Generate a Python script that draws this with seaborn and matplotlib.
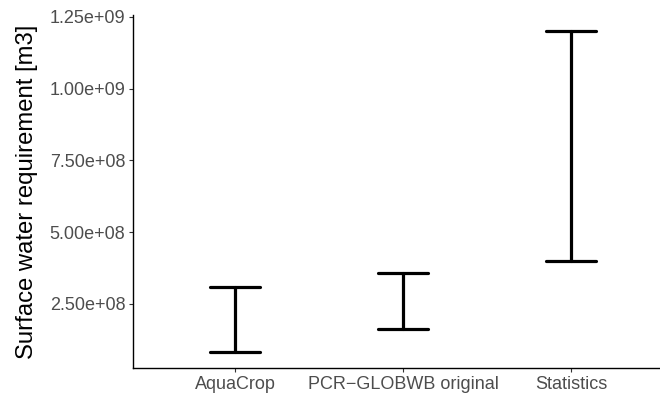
import matplotlib
matplotlib.use("Agg")
import matplotlib.pyplot as plt
import seaborn as sns
import pandas as pd

categories = ["AquaCrop", "PCR\u2212GLOBWB original", "Statistics"]
lower = [8.3e7, 1.63e8, 4.0e8]
upper = [3.10e8, 3.57e8, 1.20e9]
yticks = [2.5e8, 5.0e8, 7.5e8, 1.0e9, 1.25e9]
ytick_labels = ["2.50e+08", "5.00e+08", "7.50e+08", "1.00e+09", "1.25e+09"]
ylabel = "Surface water requirement [m3]"

sns.set_theme(style="white")
plt.rcParams["font.family"] = ["Liberation Sans", "DejaVu Sans"]

df = pd.DataFrame({
    "cat": categories * 2,
    "val": lower + upper,
})

fig = plt.figure(figsize=(6.6, 3.96), dpi=100)
ax = fig.add_axes([0.2015, 0.0707, 0.7985, 0.8915])

sns.pointplot(data=df, x="cat", y="val", order=categories,
              errorbar=lambda v: (v.min(), v.max()),
              capsize=0.3, color="black", marker="", linestyle="none",
              err_kws={"linewidth": 2.3}, ax=ax)

ax.set_xlim(-0.607, 2.53)
ax.set_ylim(2.7e7, 1.256e9)
ax.set_yticks(yticks)
ax.set_yticklabels(ytick_labels)
ax.set_xlabel("")
ax.set_ylabel(ylabel, fontsize=17.2, color="black", labelpad=8)
ax.tick_params(axis="both", which="both", length=3, width=0.8, color="#333333",
               labelsize=13, labelcolor="#4D4D4D", pad=2.5, left=True, bottom=True)
for s in ["top", "right"]:
    ax.spines[s].set_visible(False)
for s in ["left", "bottom"]:
    ax.spines[s].set_color("black")
    ax.spines[s].set_linewidth(1.0)
ax.grid(False)

fig.savefig("out.png", dpi=100)
